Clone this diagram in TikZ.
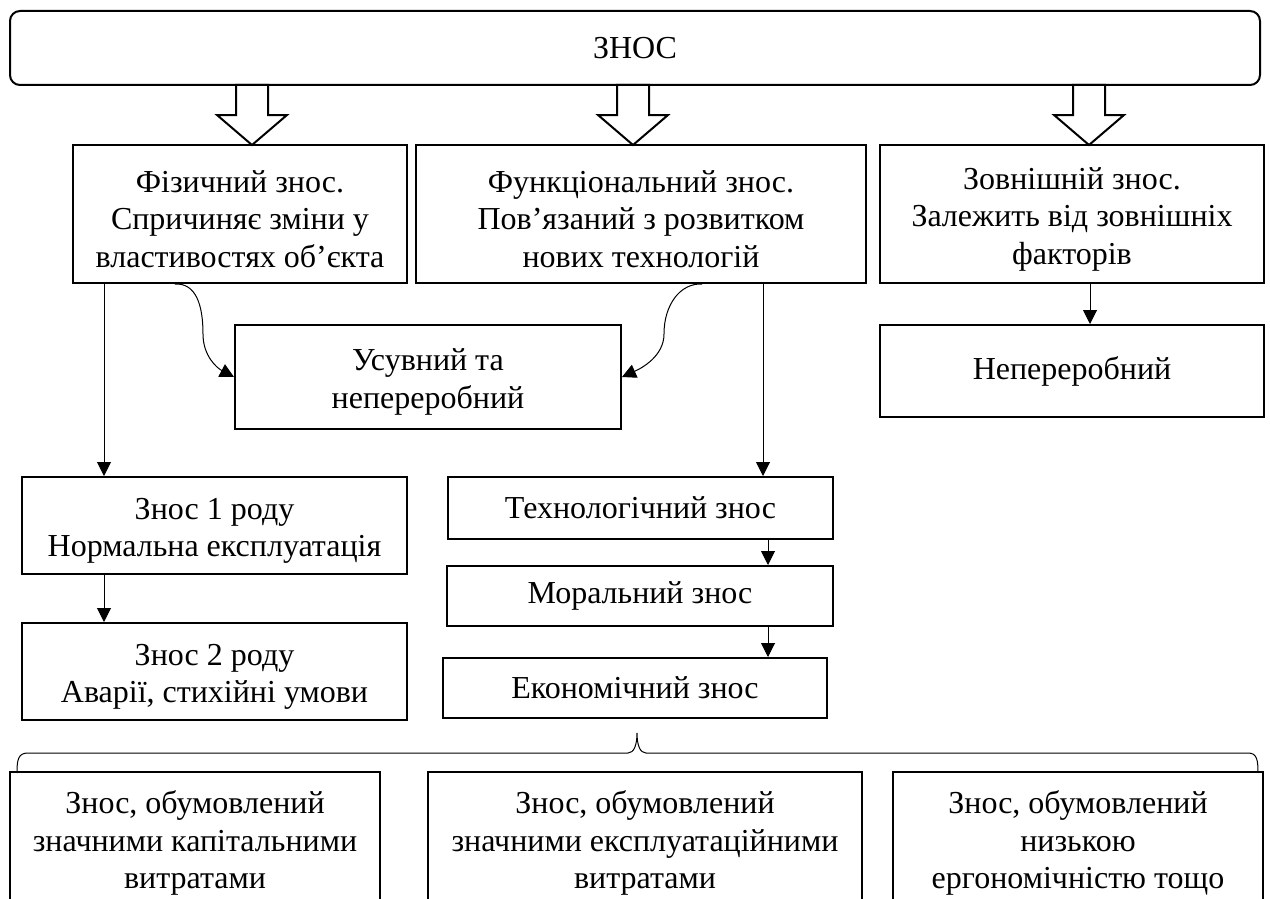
\documentclass[tikz,border=0pt]{standalone}
\usepackage{fontspec}
\setmainfont{Liberation Serif}
\usetikzlibrary{arrows.meta,calc}
% hollow block arrow pointing down, tip at (#1,145)
\newcommand\hollowdown[1]{%
  \draw[blockarrow] (#1,145) -- ++(-35,-30) -- ++(19,0) -- ++(0,-30)
    -- ++(32,0) -- ++(0,30) -- ++(19,0) -- cycle;}
% invisible strut that lets multi-line text sit a little lower in its box
\newcommand\topgap{\rule{0pt}{32pt}}
\begin{document}
\begin{tikzpicture}[x=1pt,y=-1pt,
  box/.style={draw, line width=2pt, rectangle, align=center, inner sep=0pt,
    font=\fontsize{32}{37.5}\selectfont},
  conn/.style={line width=1pt, -{Triangle[length=14pt,width=14pt]}},
  blockarrow/.style={draw, line width=2pt, fill=white, line join=miter},
  bracket/.style={line width=1pt}]
\useasboundingbox (0,0) rectangle (1270,899);
\clip (0,0) rectangle (1270,899);

% main heading
\node[box, rounded corners=10pt, minimum width=1250pt, minimum height=74pt] (top) at (635,48) {ЗНОС};

% three kinds of wear
\node[box, minimum width=334pt, minimum height=138pt] (fiz) at (240,214)
  {\topgap Фізичний знос.\\Спричиняє зміни у\\властивостях об’єкта};
\node[box, minimum width=450pt, minimum height=138pt] (fun) at (641,214)
  {\topgap Функціональний знос.\\Пов’язаний з розвитком\\нових технологій};
\node[box, minimum width=384pt, minimum height=138pt] (zov) at (1072,214)
  {\topgap Зовнішній знос.\\Залежить від зовнішніх\\факторів};

\hollowdown{252}
\hollowdown{633}
\hollowdown{1089}

% second level
\node[box, minimum width=384pt, minimum height=92pt] (nep) at (1072,371) {Непереробний};
\node[box, minimum width=386pt, minimum height=104pt] (usu) at (428,377)
  {\topgap Усувний та\\непереробний};

\node[box, minimum width=385pt, minimum height=97pt] (e1) at (214.5,525.5)
  {\topgap Знос 1 роду\\Нормальна експлуатація};
\node[box, minimum width=385pt, minimum height=97pt] (e2) at (214.5,671.5)
  {\topgap Знос 2 роду\\Аварії, стихійні умови};

\node[box, minimum width=385pt, minimum height=62pt] (teh) at (640.5,508) {Технологічний знос};
\node[box, minimum width=386pt, minimum height=60pt] (mor) at (640,596) {Моральний знос};
\node[box, minimum width=384pt, minimum height=60pt] (eko) at (635,688) {Економічний знос};

% bottom row
\node[box, minimum width=370pt, minimum height=142pt] (k1) at (195,843)
  {Знос, обумовлений\\значними капітальними\\витратами};
\node[box, minimum width=434pt, minimum height=142pt] (k2) at (645,843)
  {Знос, обумовлений\\значними експлуатаційними\\витратами};
\node[box, minimum width=370pt, minimum height=142pt] (k3) at (1078,843)
  {Знос, обумовлений\\низькою\\ергономічністю тощо};

% connector columns
\coordinate (xa) at (104,0);
\coordinate (xb) at (763,0);
\coordinate (xc) at (768,0);
\coordinate (xd) at (1090,0);
\coordinate (ca) at (175,0);
\coordinate (cb) at (702,0);

\draw[conn] (fiz.south -| xa) -- (e1.north -| xa);
\draw[conn] (e1.south -| xa) -- (e2.north -| xa);
\draw[conn] (fun.south -| xb) -- (teh.north -| xb);
\draw[conn] (teh.south -| xc) -- (mor.north -| xc);
\draw[conn] (mor.south -| xc) -- (eko.north -| xc);
\draw[conn] (zov.south -| xd) -- (nep.north -| xd);

\draw[conn] (fiz.south -| ca) .. controls (196,283) and (203,305) .. (203,334)
  .. controls (203,356) and (217,368) .. (usu.west);
\draw[conn] (fun.south -| cb) .. controls (680,283) and (664,305) .. (664,334)
  .. controls (664,356) and (642,368) .. (usu.east);

% brace over the bottom row
\draw[bracket] (17,773) .. controls (17,760) and (18,753) .. (28,753) -- (628,753)
  .. controls (634,753) and (637,745) .. (637,733)
  .. controls (637,745) and (640,753) .. (646,753) -- (1248,753)
  .. controls (1257,753) and (1258,760) .. (1258,773);
\end{tikzpicture}
\end{document}
